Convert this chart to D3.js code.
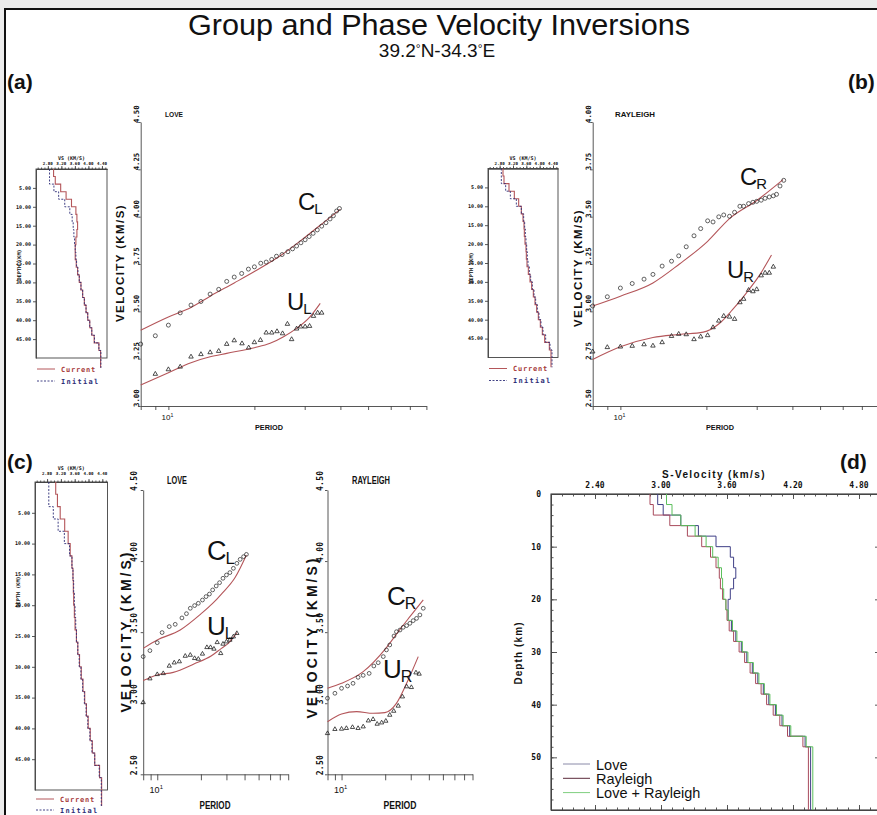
<!DOCTYPE html>
<html>
<head>
<meta charset="utf-8">
<title>Group and Phase Velocity Inversions</title>
<script src="https://cdn.jsdelivr.net/npm/d3@7/dist/d3.min.js"></script>
<style>
  html, body { margin: 0; padding: 0; background: #ececec; overflow: hidden; }
  svg { display: block; }
  text { font-family: "Liberation Sans", Arial, sans-serif; fill: #111; }
  .mono { font-family: "DejaVu Sans Mono", monospace; font-weight: bold; }
  .bold { font-weight: bold; }
</style>
</head>
<body>
<script>
// ---------------- data ----------------
const periodTicks = [8, 9, 10, 20, 30, 40, 50, 60, 70, 80];
const velTicksA = [3.00, 3.25, 3.50, 3.75, 4.00, 4.25, 4.50];
const velTicksB = [2.50, 2.75, 3.00, 3.25, 3.50, 3.75, 4.00];
const velTicksC = [2.50, 3.00, 3.50, 4.00, 4.50];
const profileVsTicks = [2.80, 3.20, 3.60, 4.00, 4.40];
const profileDepthTicks = [5, 10, 15, 20, 25, 30, 35, 40, 45];
const svTicks = [2.40, 3.00, 3.60, 4.20, 4.80];
const depthTicksD = [0, 10, 20, 30, 40, 50];

// layered S-velocity models (tops in km, last entry is the half-space)
const layerTops = [0, 2, 4, 6, 8, 10, 12, 14, 16, 18, 20, 22, 24, 26, 28, 30, 32, 34, 36, 38, 40, 42, 44, 46, 48];
const vsLove    = [2.97, 3.02, 3.18, 3.34, 3.50, 3.63, 3.66, 3.68, 3.66, 3.63, 3.61, 3.61, 3.64, 3.68, 3.73, 3.78, 3.83, 3.88, 3.93, 3.98, 4.04, 4.10, 4.17, 4.31, 4.36];
const vsRayl    = [2.90, 2.93, 3.08, 3.24, 3.37, 3.45, 3.50, 3.53, 3.54, 3.56, 3.59, 3.60, 3.62, 3.66, 3.71, 3.76, 3.81, 3.86, 3.91, 3.96, 4.02, 4.08, 4.15, 4.29, 4.34];
const vsJoint   = [3.05, 3.10, 3.18, 3.31, 3.41, 3.47, 3.52, 3.55, 3.56, 3.57, 3.59, 3.61, 3.65, 3.69, 3.74, 3.79, 3.84, 3.89, 3.94, 3.99, 4.05, 4.11, 4.18, 4.32, 4.38];
const vsInitial = [2.85, 2.85, 2.98, 3.12, 3.30, 3.45, 3.52, 3.55, 3.57, 3.59, 3.61, 3.63, 3.65, 3.69, 3.73, 3.78, 3.83, 3.88, 3.93, 3.98, 4.04, 4.10, 4.18, 4.31, 4.37];

// (a) Love-wave inversion: observed and predicted dispersion
const aPhaseObsT = [8, 9, 10, 11, 12, 13, 14, 15, 16, 17, 18.05, 19.06, 20, 21.05, 22, 23, 23.9, 25, 26.2, 27.2, 28.1, 29.1, 30.1, 31.1, 32.1, 33.2, 34.4, 35.6, 36.8, 37.8, 38.8, 39.7];
const aPhaseObsV = [3.327, 3.371, 3.427, 3.492, 3.533, 3.552, 3.591, 3.616, 3.658, 3.681, 3.700, 3.723, 3.735, 3.754, 3.760, 3.774, 3.791, 3.800, 3.815, 3.830, 3.845, 3.862, 3.878, 3.895, 3.912, 3.930, 3.950, 3.968, 3.988, 4.005, 4.030, 4.043];
const aPhaseFitT = [8, 10, 12, 14, 17, 20, 25, 30, 35, 40];
const aPhaseFitV = [3.40, 3.47, 3.52, 3.58, 3.65, 3.71, 3.80, 3.89, 3.97, 4.04];
const aGroupObsT = [9, 10, 11, 12, 13, 14, 15, 16, 17, 18.1, 19.1, 20, 21, 22, 23, 24, 25.1, 26.1, 27, 28.1, 29, 30.1, 31.2, 32.2, 33.3, 34.4];
const aGroupObsV = [3.169, 3.193, 3.207, 3.260, 3.273, 3.283, 3.290, 3.327, 3.346, 3.330, 3.308, 3.336, 3.348, 3.387, 3.387, 3.394, 3.383, 3.433, 3.352, 3.408, 3.419, 3.419, 3.422, 3.475, 3.492, 3.492];
const aGroupFitT = [8, 10, 12, 14, 16, 20, 22.7, 25.3, 28.1, 31.3, 34];
const aGroupFitV = [3.111, 3.176, 3.229, 3.260, 3.278, 3.308, 3.331, 3.366, 3.410, 3.471, 3.542];

// (b) Rayleigh-wave inversion
const bPhaseObsT = [8, 9, 10, 11, 12.1, 13, 14, 15.1, 16, 17, 18.1, 19.1, 20.2, 21.1, 22.1, 23, 24.1, 25.1, 26.2, 27, 28.1, 29.1, 30, 31.1, 32.1, 33.2, 34.3, 35.2, 36.2, 37.3];
const bPhaseObsV = [3.028, 3.077, 3.123, 3.147, 3.170, 3.195, 3.239, 3.265, 3.293, 3.341, 3.399, 3.437, 3.478, 3.472, 3.499, 3.509, 3.502, 3.523, 3.555, 3.555, 3.569, 3.576, 3.581, 3.587, 3.597, 3.604, 3.610, 3.618, 3.662, 3.692];
const bPhaseFitT = [8, 10, 13, 16.1, 20.2, 24.1, 30.1, 37.1];
const bPhaseFitV = [3.028, 3.080, 3.150, 3.250, 3.370, 3.490, 3.587, 3.696];
const bGroupObsT = [8, 9, 10, 11, 12.1, 13, 14, 15.1, 16, 17, 18.1, 19.1, 20.2, 21.1, 22.1, 23, 24.1, 25.1, 26.2, 27, 28.1, 29.1, 30, 31.1, 32.1, 33.2, 34.3];
const bGroupObsV = [2.787, 2.810, 2.813, 2.817, 2.825, 2.818, 2.836, 2.869, 2.880, 2.878, 2.852, 2.866, 2.873, 2.915, 2.950, 2.975, 2.971, 2.959, 3.047, 3.065, 3.112, 3.105, 3.116, 3.189, 3.203, 3.203, 3.235];
const bGroupFitT = [8, 10, 13, 16.1, 19.5, 22.2, 24.6, 27.5, 30.7, 33.8];
const bGroupFitV = [2.746, 2.813, 2.862, 2.878, 2.890, 2.936, 3.006, 3.094, 3.191, 3.297];

// (c) joint inversion, Love part
const cLPhaseObsT = [8, 8.9, 10, 10.8, 12.1, 13.3, 14.8, 15.9, 16.9, 18.1, 19.2, 20.5, 21.7, 22.9, 24.1, 25.5, 26.9, 28.4, 30, 31.7, 33.5, 35.4, 37.3, 39.4, 41.2];
const cLPhaseObsV = [3.328, 3.370, 3.426, 3.497, 3.539, 3.555, 3.600, 3.630, 3.668, 3.687, 3.703, 3.726, 3.750, 3.768, 3.797, 3.825, 3.848, 3.879, 3.902, 3.919, 3.949, 3.984, 4.012, 4.031, 4.047];
const cLPhaseFitT = [8, 10, 14.4, 20, 24, 27.7, 34.5, 41.2];
const cLPhaseFitV = [3.386, 3.445, 3.515, 3.628, 3.700, 3.768, 3.886, 4.043];
const cLGroupObsT = [8, 8.9, 10, 11, 12.1, 13.1, 14.2, 15.6, 16.9, 18.1, 19.2, 20.5, 22, 23.3, 24.6, 25.9, 27.4, 28.4, 30, 31.7, 33.5, 35.4];
const cLGroupObsV = [3.006, 3.173, 3.203, 3.210, 3.262, 3.285, 3.293, 3.332, 3.339, 3.316, 3.311, 3.347, 3.393, 3.393, 3.382, 3.428, 3.351, 3.417, 3.433, 3.445, 3.468, 3.492];
const cLGroupFitT = [8, 10, 12.9, 17.9, 23.5, 27.7, 30.9, 35.4];
const cLGroupFitV = [3.159, 3.199, 3.217, 3.276, 3.332, 3.386, 3.421, 3.497];

// (c) joint inversion, Rayleigh part
const cRPhaseObsT = [8, 9, 10, 11, 12, 13, 14.1, 15.5, 16.7, 17.9, 19.4, 20.4, 21.5, 23, 23.9, 25.3, 26.6, 28.1, 29.6, 31.2, 32.9, 34.7, 36.6];
const cRPhaseObsV = [3.035, 3.070, 3.105, 3.121, 3.140, 3.182, 3.196, 3.210, 3.262, 3.285, 3.328, 3.375, 3.410, 3.473, 3.503, 3.515, 3.534, 3.546, 3.562, 3.581, 3.597, 3.621, 3.668];
const cRPhaseFitT = [8, 10, 14.1, 20.2, 25.3, 29.9, 36.6];
const cRPhaseFitV = [3.105, 3.140, 3.222, 3.386, 3.520, 3.614, 3.727];
const cRGroupObsT = [8, 9, 10, 10.8, 11.9, 13, 14.1, 15.3, 16.5, 17.6, 18.9, 20.2, 21.5, 22.9, 24.6, 26.3, 28.1, 30.3, 32.6, 34.3];
const cRGroupObsV = [2.788, 2.817, 2.819, 2.824, 2.831, 2.824, 2.835, 2.877, 2.887, 2.854, 2.863, 2.875, 2.917, 2.945, 2.981, 3.046, 3.117, 3.112, 3.215, 3.206];
const cRGroupFitT = [8, 10, 12.7, 16.5, 19.9, 23.9, 28.1, 33.8];
const cRGroupFitV = [2.870, 2.924, 2.941, 2.929, 2.934, 2.999, 3.140, 3.328];

// ---------------- drawing ----------------
const W = 877, H = 815;
const RED = "#b4565a", NAVY = "#2e2e78", AXIS = "#444";
const svg = d3.select("body").append("svg").attr("width", W).attr("height", H);

svg.append("rect").attr("width", W).attr("height", H).attr("fill", "#ececec");
svg.append("rect").attr("x", 5).attr("y", 9).attr("width", W + 20).attr("height", H + 20)
  .attr("fill", "#fff").attr("stroke", "#111").attr("stroke-width", 2);

// title block
svg.append("text").attr("x", 439).attr("y", 35).attr("text-anchor", "middle")
  .attr("font-size", 29).attr("textLength", 502).attr("lengthAdjust", "spacingAndGlyphs")
  .text("Group and Phase Velocity Inversions");
const sub = svg.append("text").attr("x", 437).attr("y", 57).attr("text-anchor", "middle").attr("font-size", 19);
sub.append("tspan").text("39.2");
sub.append("tspan").attr("font-size", 12).attr("dy", -4).text("°");
sub.append("tspan").attr("font-size", 19).attr("dy", 4).text("N-34.3");
sub.append("tspan").attr("font-size", 12).attr("dy", -4).text("°");
sub.append("tspan").attr("font-size", 19).attr("dy", 4).text("E");

[["(a)", 7, 89], ["(b)", 848, 89], ["(c)", 7, 469], ["(d)", 840, 469]].forEach(([t, x, y]) => {
  svg.append("text").attr("x", x).attr("y", y).attr("font-size", 21).attr("class", "bold").text(t);
});

const zip = (a, b) => a.map((d, i) => [d, b[i]]);

function stairs(tops, vs, bottom) {
  const pts = [];
  tops.forEach((t, i) => {
    const b = i < tops.length - 1 ? tops[i + 1] : bottom;
    pts.push([vs[i], t], [vs[i], b]);
  });
  return pts;
}

function styleAxis(sel) {
  sel.selectAll("path,line").attr("stroke", AXIS).attr("stroke-width", 0.9);
  sel.select(".domain").attr("fill", "none");
}

// small depth-profile box with current and initial model
function profileBox(b, current) {
  const g = svg.append("g");
  const x = d3.scaleLinear().domain([2.45, 4.55]).range([b.x0, b.x1]);
  const y = d3.scaleLinear().domain([0, 50]).range([b.y0, b.y1]);

  g.append("g").attr("transform", `translate(0,${b.y0})`)
    .call(d3.axisTop(x).tickValues(d3.range(25, 46).map(d => d / 10)).tickSize(1.5).tickFormat("").tickSizeOuter(0))
    .call(styleAxis);
  g.append("g").attr("transform", `translate(0,${b.y0})`)
    .call(d3.axisTop(x).tickValues(profileVsTicks).tickSize(3).tickFormat("").tickSizeOuter(0))
    .call(styleAxis);
  g.append("g").attr("transform", `translate(${b.x0},0)`)
    .call(d3.axisLeft(y).tickValues(profileDepthTicks).tickSize(3).tickFormat("").tickSizeOuter(0))
    .call(styleAxis);
  g.append("rect").attr("x", b.x0).attr("y", b.y0).attr("width", b.x1 - b.x0).attr("height", b.y1 - b.y0)
    .attr("fill", "none").attr("stroke", AXIS).attr("stroke-width", 0.9);

  profileVsTicks.forEach(v => g.append("text").attr("class", "mono").attr("font-size", 4.2)
    .attr("x", x(v)).attr("y", b.y0 - b.lab).attr("text-anchor", "middle").text(v.toFixed(2)));
  g.append("text").attr("class", "mono").attr("font-size", 5).attr("x", (b.x0 + b.x1) / 2)
    .attr("y", b.y0 - b.lab - 5).attr("text-anchor", "middle").text("VS (KM/S)");
  profileDepthTicks.forEach(d => g.append("text").attr("class", "mono").attr("font-size", 5)
    .attr("x", b.x0 - 5).attr("y", y(d) + 1.8).attr("text-anchor", "end").text(d.toFixed(2)));
  g.append("text").attr("class", "mono").attr("font-size", 5.2)
    .attr("transform", `translate(${b.x0 - 15},${b.depthLabelY}) rotate(-90)`)
    .attr("text-anchor", "middle").text("DEPTH (KM)");

  const line = d3.line().x(d => x(d[0])).y(d => y(d[1]));
  g.append("path").attr("d", line(stairs(layerTops, current, 52.6)))
    .attr("fill", "none").attr("stroke", RED).attr("stroke-width", 1.1);
  g.append("path").attr("d", line(stairs(layerTops, vsInitial, 52.6)))
    .attr("fill", "none").attr("stroke", NAVY).attr("stroke-width", 0.9).attr("stroke-dasharray", "2,1.5");

  const ly = b.y1 + b.leg;
  g.append("line").attr("x1", b.x0 + 1).attr("x2", b.x0 + 19).attr("y1", ly).attr("y2", ly)
    .attr("stroke", RED).attr("stroke-width", 1);
  g.append("text").attr("class", "mono").attr("font-size", 7).attr("letter-spacing", 0.8)
    .attr("x", b.x0 + 25).attr("y", ly + 2.5).style("fill", "#a63a3a").text("Current");
  g.append("line").attr("x1", b.x0 + 1).attr("x2", b.x0 + 19).attr("y1", ly + b.legGap).attr("y2", ly + b.legGap)
    .attr("stroke", NAVY).attr("stroke-width", 0.9).attr("stroke-dasharray", "2,1.5");
  g.append("text").attr("class", "mono").attr("font-size", 7).attr("letter-spacing", 1.3)
    .attr("x", b.x0 + 25).attr("y", ly + b.legGap + 2.5).style("fill", NAVY).text("Initial");
}

// dispersion panel: velocity against log period
function dispersionPanel(p) {
  const g = svg.append("g");
  const x = d3.scaleLog().domain([8, 80]).range([p.xl, p.xr]);
  const y = d3.scaleLinear().domain(p.vDomain).range([p.yb, p.yt]);

  g.append("g").attr("transform", `translate(0,${p.yb})`)
    .call(d3.axisBottom(x).tickValues(periodTicks).tickFormat("").tickSize(p.tick).tickSizeOuter(0))
    .call(styleAxis);
  g.append("g").attr("transform", `translate(${p.xl},0)`)
    .call(d3.axisLeft(y).tickValues(p.vTicks).tickFormat("").tickSize(2.5).tickSizeOuter(0))
    .call(styleAxis);

  p.vTicks.forEach(v => g.append("text").attr("class", "mono").attr("font-size", p.tickFont)
    .attr("letter-spacing", p.tickSpace)
    .attr("transform", `translate(${p.tickX},${y(v) + 1}) rotate(-90)`).text(v.toFixed(2)));
  g.append("text").attr("class", "bold").attr("font-size", p.velFont).attr("letter-spacing", p.velSpace)
    .attr("transform", `translate(${p.velX},${p.velY}) rotate(-90)`).attr("text-anchor", "middle")
    .text("VELOCITY (KM/S)");

  const ten = g.append("text").attr("x", x(10) - 1).attr("y", p.tenY).attr("text-anchor", "middle")
    .attr("font-size", p.tenFont);
  ten.append("tspan").text("10");
  ten.append("tspan").attr("font-size", p.tenFont * 0.65).attr("dy", -p.tenFont * 0.4).text("1");

  g.append("text").attr("class", "bold").attr("font-size", p.perFont).attr("x", p.perX).attr("y", p.perY)
    .attr("text-anchor", "middle").attr("textLength", p.perLen).attr("lengthAdjust", "spacingAndGlyphs")
    .text("PERIOD");
  g.append("text").attr("class", "bold").attr("font-size", p.waveFont).attr("x", p.waveX).attr("y", p.waveY)
    .attr("textLength", p.waveLen).attr("lengthAdjust", "spacingAndGlyphs").text(p.wave);

  const line = d3.line().x(d => x(d[0])).y(d => y(d[1])).curve(d3.curveMonotoneX);
  [p.cFit, p.uFit].forEach(f => g.append("path").attr("d", line(f))
    .attr("fill", "none").attr("stroke", RED).attr("stroke-width", 1.1));

  g.selectAll(null).data(p.cObs).enter().append("circle")
    .attr("cx", d => x(d[0])).attr("cy", d => y(d[1])).attr("r", p.mark)
    .attr("fill", "none").attr("stroke", "#222").attr("stroke-width", 0.7);
  const tri = d3.symbol(d3.symbolTriangle, p.mark * p.mark * 2.2);
  g.selectAll(null).data(p.uObs).enter().append("path")
    .attr("d", tri).attr("transform", d => `translate(${x(d[0])},${y(d[1])})`)
    .attr("fill", "none").attr("stroke", "#222").attr("stroke-width", 0.8);

  // curve labels C / U with subscript
  p.labels.forEach(l => {
    const t = g.append("text").attr("x", l.x).attr("y", l.y).attr("font-size", l.size);
    t.append("tspan").text(l.main);
    t.append("tspan").attr("font-size", l.size * 0.62).attr("dx", -1).attr("dy", l.size * 0.16).text(l.sub);
  });
}

// (a)
profileBox({ x0: 36, x1: 107, y0: 169, y1: 358, lab: 4, depthLabelY: 265, leg: 11, legGap: 12 }, vsLove);
dispersionPanel({
  xl: 140.7, xr: 426.4, yt: 122, yb: 406, vDomain: [3.0, 4.5], vTicks: velTicksA, tick: 4,
  tickX: 138.6, tickFont: 7.3, tickSpace: 0, velX: 124, velY: 263, velFont: 11.5, velSpace: 1.4,
  tenY: 420, tenFont: 8, perX: 269, perY: 430, perFont: 8, perLen: 28,
  wave: "LOVE", waveX: 165, waveY: 117, waveFont: 7.5, waveLen: 18, mark: 2,
  cObs: zip(aPhaseObsT, aPhaseObsV), uObs: zip(aGroupObsT, aGroupObsV),
  cFit: zip(aPhaseFitT, aPhaseFitV), uFit: zip(aGroupFitT, aGroupFitV),
  labels: [{ x: 298, y: 210, size: 24, main: "C", sub: "L" }, { x: 287, y: 310, size: 24, main: "U", sub: "L" }]
});

// (b)
profileBox({ x0: 488, x1: 558, y0: 168.5, y1: 357.5, lab: 4, depthLabelY: 268, leg: 11, legGap: 12 }, vsRayl);
dispersionPanel({
  xl: 592.7, xr: 878.4, yt: 122, yb: 406, vDomain: [2.5, 4.0], vTicks: velTicksB, tick: 4,
  tickX: 590.5, tickFont: 7.3, tickSpace: 0, velX: 582, velY: 268, velFont: 11.5, velSpace: 1.4,
  tenY: 420, tenFont: 8, perX: 720, perY: 430, perFont: 8, perLen: 28,
  wave: "RAYLEIGH", waveX: 615, waveY: 117, waveFont: 7.5, waveLen: 40, mark: 2,
  cObs: zip(bPhaseObsT, bPhaseObsV), uObs: zip(bGroupObsT, bGroupObsV),
  cFit: zip(bPhaseFitT, bPhaseFitV), uFit: zip(bGroupFitT, bGroupFitV),
  labels: [{ x: 740, y: 185, size: 24, main: "C", sub: "R" }, { x: 727, y: 278, size: 24, main: "U", sub: "R" }]
});

// (c)
profileBox({ x0: 35, x1: 107.5, y0: 482, y1: 790, lab: 7, depthLabelY: 592, leg: 9, legGap: 11 }, vsJoint);
dispersionPanel({
  xl: 143.2, xr: 288.2, yt: 490, yb: 774.3, vDomain: [2.5, 4.5], vTicks: velTicksC, tick: 6,
  tickX: 137, tickFont: 8, tickSpace: 0.3, velX: 131, velY: 631, velFont: 14, velSpace: 3,
  tenY: 793, tenFont: 9, perX: 215, perY: 809, perFont: 11, perLen: 31,
  wave: "LOVE", waveX: 167, waveY: 484, waveFont: 10, waveLen: 20, mark: 1.9,
  cObs: zip(cLPhaseObsT, cLPhaseObsV), uObs: zip(cLGroupObsT, cLGroupObsV),
  cFit: zip(cLPhaseFitT, cLPhaseFitV), uFit: zip(cLGroupFitT, cLGroupFitV),
  labels: [{ x: 207, y: 560, size: 27, main: "C", sub: "L" }, { x: 207, y: 635, size: 26, main: "U", sub: "L" }]
});
dispersionPanel({
  xl: 327.5, xr: 472.5, yt: 490, yb: 774.3, vDomain: [2.5, 4.5], vTicks: velTicksC, tick: 6,
  tickX: 323, tickFont: 8, tickSpace: 0.3, velX: 316.5, velY: 637, velFont: 14, velSpace: 3,
  tenY: 793, tenFont: 9, perX: 400, perY: 809, perFont: 11, perLen: 33,
  wave: "RAYLEIGH", waveX: 352, waveY: 484, waveFont: 10, waveLen: 38, mark: 1.9,
  cObs: zip(cRPhaseObsT, cRPhaseObsV), uObs: zip(cRGroupObsT, cRGroupObsV),
  cFit: zip(cRPhaseFitT, cRPhaseFitV), uFit: zip(cRGroupFitT, cRGroupFitV),
  labels: [{ x: 387, y: 605, size: 26, main: "C", sub: "R" }, { x: 383, y: 678, size: 26, main: "U", sub: "R" }]
});

// (d) comparison of the three inverted models
(function () {
  const g = svg.append("g");
  const x = d3.scaleLinear().domain([2.0, 5.0]).range([551, 881]);
  const y = d3.scaleLinear().domain([0, 60]).range([494, 810]);
  const minorV = d3.range(20, 51).map(d => d / 10);
  const minorD = d3.range(0, 61, 2);

  g.append("rect").attr("x", 551).attr("y", 494).attr("width", 330).attr("height", 316)
    .attr("fill", "none").attr("stroke", "#222").attr("stroke-width", 1);
  g.append("g").attr("transform", "translate(0,494)")
    .call(d3.axisBottom(x).tickValues(minorV).tickSize(2.5).tickFormat("").tickSizeOuter(0)).call(styleAxis);
  g.append("g").attr("transform", "translate(0,494)")
    .call(d3.axisBottom(x).tickValues(svTicks).tickSize(5).tickFormat("").tickSizeOuter(0)).call(styleAxis);
  g.append("g").attr("transform", "translate(0,810)")
    .call(d3.axisTop(x).tickValues(minorV).tickSize(2.5).tickFormat("").tickSizeOuter(0)).call(styleAxis);
  g.append("g").attr("transform", "translate(0,810)")
    .call(d3.axisTop(x).tickValues(svTicks).tickSize(5).tickFormat("").tickSizeOuter(0)).call(styleAxis);
  g.append("g").attr("transform", "translate(551,0)")
    .call(d3.axisRight(y).tickValues(minorD).tickSize(2.5).tickFormat("").tickSizeOuter(0)).call(styleAxis);
  g.append("g").attr("transform", "translate(551,0)")
    .call(d3.axisRight(y).tickValues(depthTicksD).tickSize(6).tickFormat("").tickSizeOuter(0)).call(styleAxis);
  g.append("g").attr("transform", "translate(881,0)")
    .call(d3.axisLeft(y).tickValues(minorD).tickSize(2.5).tickFormat("").tickSizeOuter(0)).call(styleAxis);
  g.append("g").attr("transform", "translate(881,0)")
    .call(d3.axisLeft(y).tickValues(depthTicksD).tickSize(6).tickFormat("").tickSizeOuter(0)).call(styleAxis);

  svTicks.forEach(v => g.append("text").attr("class", "mono").attr("font-size", 8)
    .attr("x", x(v)).attr("y", 488).attr("text-anchor", "middle").text(v.toFixed(2)));
  g.append("text").attr("class", "bold").attr("font-size", 10).attr("letter-spacing", 1.4)
    .attr("x", 714).attr("y", 478).attr("text-anchor", "middle").text("S-Velocity (km/s)");
  depthTicksD.forEach(d => g.append("text").attr("class", "mono").attr("font-size", 8)
    .attr("x", 541).attr("y", y(d) + 3).attr("text-anchor", "end").text(d));
  g.append("text").attr("class", "bold").attr("font-size", 10).attr("letter-spacing", 1.1)
    .attr("transform", "translate(522,653) rotate(-90)").attr("text-anchor", "middle").text("Depth (km)");

  const models = [
    { name: "Love", vs: vsLove, color: "#3f3f86" },
    { name: "Rayleigh", vs: vsRayl, color: "#a84a5c" },
    { name: "Love + Rayleigh", vs: vsJoint, color: "#5cbf5c" }
  ];
  const line = d3.line().x(d => x(d[0])).y(d => y(d[1]));
  models.forEach(m => g.append("path").attr("d", line(stairs(layerTops, m.vs, 60)))
    .attr("fill", "none").attr("stroke", m.color).attr("stroke-width", 1));

  const legendColors = ["#8a8aa8", "#5a2a3a", "#7fcf7f"];
  models.forEach((m, i) => {
    const ly = 764 + i * 14.3;
    g.append("line").attr("x1", 563).attr("x2", 590).attr("y1", ly).attr("y2", ly)
      .attr("stroke", legendColors[i]).attr("stroke-width", 1);
    g.append("text").attr("x", 596).attr("y", ly + 5.5).attr("font-size", 14.5).text(m.name);
  });
})();
</script>
</body>
</html>
